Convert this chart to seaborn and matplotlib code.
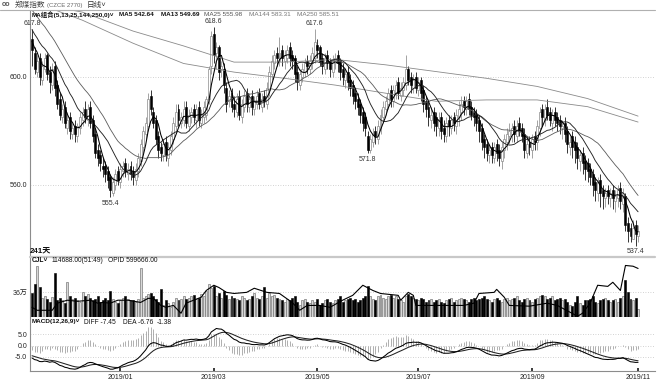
import numpy as np
import pandas as pd
import matplotlib
matplotlib.use("Agg")
import matplotlib.pyplot as plt
import seaborn as sns

# ── daily bars, 241 trading days (Nov 2018 - Nov 2019) ─────────────
# closes before the first visible bar, only used to seed MA / MACD
pre_close = [634, 636, 633, 635, 637, 634, 633, 635, 634, 636,
             634, 635, 633, 634, 632, 630, 628, 627, 625, 624,
             622, 621, 619, 618, 617, 616, 615, 614, 613, 614]

open_ = [614, 609, 602, 607, 599, 603, 608, 602, 597, 604,
         597, 592, 585, 589, 581, 585, 579, 582, 578, 581,
         584, 588, 584, 589, 584, 579, 573, 571, 567, 567,
         565, 563, 557, 560, 565, 561, 565, 568, 564, 567,
         565, 562, 565, 569, 574, 579, 582, 593, 587, 584,
         578, 574, 571, 576, 570, 573, 577, 582, 588, 583,
         584, 589, 582, 585, 588, 584, 589, 583, 585, 586,
         592, 604, 616, 609, 611, 603, 603, 596, 591, 594,
         590, 587, 593, 585, 589, 594, 589, 593, 588, 590,
         594, 589, 593, 590, 595, 601, 605, 609, 606, 610,
         606, 607, 611, 608, 607, 602, 597, 600, 602, 606,
         603, 605, 607, 612, 611, 607, 603, 608, 606, 602,
         605, 608, 606, 603, 599, 602, 599, 597, 594, 592,
         590, 587, 585, 578, 573, 576, 580, 577, 581, 585,
         588, 590, 595, 591, 594, 598, 593, 595, 597, 603,
         600, 596, 600, 595, 599, 595, 591, 589, 584, 587,
         585, 581, 585, 581, 578, 584, 581, 585, 582, 585,
         587, 591, 588, 592, 589, 587, 586, 584, 581, 577,
         575, 571, 574, 570, 575, 573, 569, 573, 576, 578,
         579, 582, 578, 583, 581, 579, 572, 576, 573, 578,
         576, 581, 588, 584, 589, 587, 583, 587, 585, 584,
         581, 583, 580, 574, 578, 576, 574, 569, 572, 569,
         568, 566, 564, 561, 557, 562, 558, 555, 558, 555,
         558, 554, 555, 559, 553, 556, 546, 544, 540, 545, 541]

high = [617.8, 611, 608, 609, 606, 609, 609, 604, 605, 606,
        599, 594, 590, 591, 587, 587, 583, 584, 583, 587,
        589, 591, 590, 591, 586, 581, 575, 573, 570, 569,
        567, 564, 563, 566, 567, 568, 569, 570, 568, 569,
        567, 568, 572, 577, 582, 585, 594, 595, 589, 586,
        580, 576, 577, 578, 576, 580, 585, 590, 590, 587,
        591, 591, 588, 589, 590, 590, 591, 588, 591, 593,
        604, 617, 618.6, 613, 612, 606, 605, 598, 595, 596,
        593, 594, 595, 592, 595, 596, 594, 595, 593, 595,
        596, 594, 595, 598, 604, 608, 610, 611, 614.8, 612,
        610, 612, 613, 610, 608, 604, 603, 605, 607, 608,
        608, 611, 617.6, 614, 612, 609, 609, 610, 607, 608,
        609, 610, 607, 605, 603, 604, 601, 599, 596, 594,
        592, 589, 587, 580, 579, 581, 582, 584, 588, 591,
        593, 596, 597, 597, 599, 600, 598, 600, 608, 604,
        602, 601, 602, 600, 600, 597, 593, 591, 589, 589,
        587, 587, 587, 584, 585, 586, 586, 587, 588, 591,
        593, 593, 593, 594, 591, 589, 588, 586, 583, 579,
        577, 575, 576, 576, 577, 575, 576, 579, 581, 583,
        583, 584, 584, 585, 583, 581, 578, 578, 579, 580,
        584, 589, 590, 590, 592, 589, 588, 589, 587, 586,
        584, 585, 582, 578, 580, 578, 576, 573, 574, 571,
        570, 568, 566, 563, 563, 564, 560, 559, 560, 559,
        560, 558, 560, 561, 559, 557, 548, 546, 547, 547, 545]

low = [604, 601, 600, 597, 597, 602, 599, 594, 595, 593,
       588, 584, 583, 581, 579, 577, 577, 576, 576, 579,
       582, 583, 582, 581, 576, 570, 567, 565, 563, 561,
       559, 555.4, 556, 558, 560, 559, 563, 563, 562, 562,
       560, 560, 563, 567, 572, 577, 580, 586, 581, 575,
       570, 569, 569, 569, 567, 571, 575, 580, 582, 581,
       582, 581, 580, 583, 583, 581, 582, 581, 583, 584,
       590, 601, 605, 603, 599, 600, 594, 587, 589, 587,
       585, 585, 584, 583, 587, 587, 587, 586, 586, 588,
       588, 587, 589, 588, 593, 599, 603, 604, 604, 604,
       603, 605, 604, 603, 598, 595, 595, 598, 600, 601,
       601, 603, 605, 607, 604, 601, 601, 603, 600, 600,
       603, 602, 599, 597, 596, 595, 593, 590, 588, 586,
       583, 580, 578, 571.8, 572, 574, 575, 575, 579, 583,
       586, 588, 589, 589, 592, 592, 591, 593, 595, 597,
       594, 594, 594, 593, 591, 587, 585, 582, 581, 580,
       578, 578, 577, 576, 576, 578, 579, 580, 579, 582,
       584, 586, 586, 586, 584, 582, 580, 576, 573, 570,
       569, 568, 568, 568, 569, 567, 566, 570, 573, 575,
       576, 576, 576, 578, 576, 570, 570, 571, 570, 573,
       573, 578, 582, 582, 584, 582, 580, 582, 580, 579,
       577, 576, 572, 571, 570, 568, 566, 565, 564, 562,
       561, 560, 556, 554, 554, 552, 551, 552, 553, 552,
       551, 550, 552, 551, 550, 543, 539, 539, 540, 537.4, 539]

close = [610, 603, 606, 600, 604, 607, 601, 598, 603, 596,
         590, 586, 588, 583, 584, 580, 581, 579, 582, 585,
         587, 585, 588, 583, 578, 572, 570, 568, 566, 564,
         562, 558, 561, 564, 562, 566, 567, 565, 566, 564,
         563, 566, 570, 575, 580, 583, 592, 588, 583, 577,
         573, 572, 575, 571, 574, 578, 583, 587, 584, 585,
         588, 583, 586, 587, 585, 588, 584, 586, 589, 592,
         603, 615, 608, 611, 602, 604, 597, 590, 593, 589,
         588, 592, 586, 590, 593, 590, 592, 589, 591, 593,
         590, 592, 591, 596, 602, 606, 608, 607, 609, 607,
         608, 610, 607, 606, 601, 598, 601, 603, 605, 604,
         606, 609, 613, 610, 606, 604, 607, 605, 603, 606,
         607, 605, 602, 600, 601, 598, 596, 593, 591, 589,
         586, 583, 581, 573, 577, 579, 578, 582, 586, 589,
         591, 594, 592, 595, 597, 594, 596, 598, 603, 599,
         597, 599, 596, 598, 594, 590, 588, 585, 586, 583,
         582, 584, 580, 579, 583, 582, 584, 583, 586, 588,
         590, 589, 591, 588, 586, 585, 583, 580, 576, 574,
         572, 573, 571, 574, 572, 570, 574, 577, 579, 580,
         581, 579, 582, 580, 578, 573, 575, 574, 577, 576,
         582, 587, 585, 588, 586, 584, 586, 584, 583, 582,
         582, 579, 575, 576, 574, 573, 570, 571, 568, 566,
         565, 563, 560, 558, 561, 557, 556, 557, 556, 557,
         555, 556, 558, 554, 557, 545, 543, 541, 544, 542, 543]

# volume, in 万手
volume = [34, 48, 73, 43, 28, 30, 26, 22, 29, 63,
          25, 27, 24, 20, 50, 30, 26, 28, 24, 22,
          36, 30, 33, 28, 24, 26, 30, 22, 25, 28,
          25, 38, 26, 22, 20, 24, 28, 30, 26, 24,
          24, 22, 26, 70, 28, 30, 33, 35, 30, 26,
          22, 40, 18, 25, 20, 15, 22, 28, 24, 26,
          30, 26, 28, 30, 32, 26, 28, 33, 30, 38,
          48, 42, 45, 30, 35, 28, 38, 32, 26, 30,
          28, 26, 24, 30, 28, 25, 26, 30, 34, 28,
          26, 30, 43, 28, 35, 30, 32, 28, 26, 24,
          22, 26, 24, 28, 30, 22, 18, 24, 26, 22,
          20, 24, 22, 26, 18, 20, 24, 26, 22, 20,
          24, 26, 30, 22, 24, 26, 28, 24, 26, 22,
          24, 28, 30, 45, 30, 26, 24, 30, 32, 28,
          26, 30, 32, 28, 30, 26, 24, 22, 30, 33,
          30, 28, 26, 24, 28, 26, 22, 24, 26, 22,
          24, 26, 22, 20, 24, 26, 28, 22, 24, 26,
          28, 26, 24, 22, 26, 28, 24, 26, 28, 30,
          26, 24, 22, 26, 28, 24, 22, 26, 28, 24,
          26, 28, 30, 24, 22, 26, 28, 24, 22, 26,
          28, 30, 32, 30, 26, 28, 30, 24, 26, 28,
          24, 26, 22, 18, 16, 22, 30, 20, 18, 24,
          24, 26, 30, 22, 20, 24, 26, 28, 24, 22,
          24, 26, 22, 28, 30, 53, 36, 26, 24, 27, 11]

# open interest (万手), read at these day numbers
oi_day = [0, 2, 8, 10, 14, 18, 23, 26, 28, 31, 34, 38, 43, 46, 48, 51, 53, 56,
          59, 61, 64, 67, 69, 72, 74, 77, 80, 85, 88, 93, 98, 103, 106, 109,
          114, 118, 123, 127, 131, 135, 138, 145, 146, 149, 151, 152, 158, 163,
          171, 175, 177, 183, 184, 187, 189, 197, 204, 208, 213, 216, 218, 221,
          224, 228, 230, 233, 235, 238, 240]
oi_val = [49.6, 48.8, 48.8, 50.7, 51.5, 51.2, 51.5, 50.7, 50.9, 50.7, 51.5,
          51.5, 50.9, 52.0, 52.0, 50.1, 49.6, 50.1, 48.0, 50.7, 51.5, 52.3,
          54.1, 55.5, 54.9, 53.6, 53.3, 53.6, 54.7, 53.6, 53.3, 50.9, 48.8,
          50.1, 50.1, 49.6, 51.5, 52.8, 55.5, 54.1, 53.3, 52.8, 51.5, 53.6,
          52.8, 50.1, 50.1, 50.1, 50.1, 50.7, 53.3, 53.6, 54.4, 52.3, 50.1,
          49.9, 50.7, 50.1, 48.3, 47.2, 48.0, 50.7, 55.5, 55.2, 56.3, 54.1,
          60.8, 60.6, 60.0]

ma_day = [0, 20, 40, 60, 80, 100, 120, 140, 160, 180, 200, 220, 240]
ma144_val = [628, 621, 612.5, 605, 601.8, 599.5, 597, 594, 591, 591.5, 591.5, 589, 583.3]
ma250_val = [627.5, 624, 617, 611.5, 605.5, 605.5, 606.5, 604.5, 602, 599.5, 596.5, 592, 585.5]

tick_day = [35, 72, 113, 153, 198, 240]
tick_text = ["2019/01", "2019/03", "2019/05", "2019/07", "2019/09", "2019/11"]

peak_day = [0, 72, 112]
trough_day = [31, 133, 239]

# ── indicators ──────────────────────────────────────────────
O = np.array(open_, float)
Hi = np.array(high, float)
Lo = np.array(low, float)
C = np.array(close, float)
V = np.array(volume, float)
days = np.arange(len(C))
up = C >= O

full = pd.Series(pre_close + close, dtype=float)
npre = len(pre_close)
ma5 = full.rolling(5).mean().to_numpy()[npre:]
ma13 = full.rolling(13).mean().to_numpy()[npre:]
ma25 = full.rolling(25).mean().to_numpy()[npre:]
ema12 = full.ewm(span=12, adjust=False).mean()
ema26 = full.ewm(span=26, adjust=False).mean()
diff_s = ema12 - ema26
dea_s = diff_s.ewm(span=9, adjust=False).mean()
diff = diff_s.to_numpy()[npre:]
dea = dea_s.to_numpy()[npre:]
hist = 2 * (diff - dea)

# ── figure ──────────────────────────────────────────────────
sns.set_theme(style="white")
plt.rcParams["font.family"] = ["Liberation Sans", "Noto Sans CJK SC", "DejaVu Sans"]
plt.rcParams["axes.unicode_minus"] = False

W, H = 658, 384
fig = plt.figure(figsize=(W / 100, H / 100), dpi=100)


def px_axes(x0, y0, x1, y1):
    return fig.add_axes([x0 / W, 1 - y1 / H, (x1 - x0) / W, (y1 - y0) / H])


def ftext(x, y, s, **kw):
    kw.setdefault("fontsize", 5)
    kw.setdefault("color", "#111111")
    fig.text(x / W, 1 - y / H, s, va="center", **kw)


def hline(x0, x1, y, **kw):
    fig.add_artist(plt.Line2D([x0 / W, x1 / W], [1 - y / H, 1 - y / H], **kw))


XL = (-0.8, 246.7)
GRID = dict(color="#c4c4c4", lw=0.6, ls=(0, (1, 2)), zorder=0)
TXT = 5
CHEV = "˅"

ax_p = px_axes(30, 10, 655, 256)
ax_v = px_axes(30, 258, 655, 317)
ax_m = px_axes(30, 318, 655, 371)

for ax in (ax_p, ax_v, ax_m):
    ax.set_xlim(*XL)
    for s in ("top", "right", "bottom"):
        ax.spines[s].set_visible(False)
    ax.spines["left"].set_color("#8c8c8c")
    ax.spines["left"].set_linewidth(0.8)
    ax.tick_params(axis="y", length=0, pad=2, labelsize=TXT, colors="#222222")
    ax.set_facecolor("white")
ax_p.set_xticks([])
ax_v.set_xticks([])

# price panel
ax_p.set_ylim(533.7, 624.8)
ax_p.set_yticks([560, 600])
ax_p.set_yticklabels(["560.0", "600.0"])
for v in (560, 600):
    ax_p.axhline(v, **GRID)

ax_p.vlines(days, Lo, Hi, colors=np.where(up, "#8a8a8a", "black"), lw=0.55, zorder=2)
body = np.maximum(np.abs(C - O), 0.35)
bot = np.minimum(O, C)
ax_p.bar(days[up], body[up], bottom=bot[up], width=0.78, facecolor="white",
         edgecolor="#8a8a8a", linewidth=0.5, zorder=3)
ax_p.bar(days[~up], body[~up], bottom=bot[~up], width=0.78, facecolor="black",
         edgecolor="black", linewidth=0.4, zorder=3)

sns.lineplot(x=ma_day, y=ma250_val, ax=ax_p, color="#8a8a8a", lw=0.6, zorder=4)
sns.lineplot(x=ma_day, y=ma144_val, ax=ax_p, color="#8a8a8a", lw=0.6, zorder=4)
sns.lineplot(x=days, y=ma25, ax=ax_p, color="#5a5a5a", lw=0.6, zorder=4)
sns.lineplot(x=days, y=ma13, ax=ax_p, color="#222222", lw=0.65, zorder=5)
sns.lineplot(x=days, y=ma5, ax=ax_p, color="black", lw=0.75, zorder=6)
ax_p.set_xlim(*XL)

for d in peak_day:
    ax_p.text(d, Hi[d] + 0.8, f"{Hi[d]:.1f}", ha="center", va="bottom",
              fontsize=TXT, color="#333333", clip_on=False)
for d in trough_day:
    ax_p.text(d, Lo[d] - 0.9, f"{Lo[d]:.1f}", ha="center", va="top",
              fontsize=TXT, color="#333333")

# volume panel
ax_v.set_ylim(0, 85)
ax_v.set_yticks([36])
ax_v.set_yticklabels(["36万"])
ax_v.axhline(36, **GRID)
ax_v.bar(days[up], V[up], width=0.78, facecolor="#d8d8d8", edgecolor="#7a7a7a",
         linewidth=0.5, zorder=2)
ax_v.bar(days[~up], V[~up], width=0.78, facecolor="black", edgecolor="black",
         linewidth=0.4, zorder=2)
ax_v.axhline(0, color="#9a9a9a", lw=0.7, zorder=1)
ax_oi = ax_v.twinx()
ax_oi.set_ylim(47, 62.8)
ax_oi.set_xlim(*XL)
ax_oi.axis("off")
sns.lineplot(x=oi_day, y=oi_val, ax=ax_oi, color="black", lw=0.8)

# MACD panel
ax_m.set_ylim(-11.2, 12.26)
ax_m.set_yticks([5, 0, -5])
ax_m.set_yticklabels(["5.0", "0.0", "-5.0"])
for v in (5, 0, -5):
    ax_m.axhline(v, **GRID)
ax_m.vlines(days, 0, hist, colors="#9a9a9a", lw=0.55, zorder=2)
sns.lineplot(x=days, y=dea, ax=ax_m, color="#222222", lw=0.75, zorder=3)
sns.lineplot(x=days, y=diff, ax=ax_m, color="black", lw=0.75, zorder=4)
ax_m.set_xlim(*XL)
ax_m.spines["bottom"].set_visible(True)
ax_m.spines["bottom"].set_color("#8c8c8c")
ax_m.spines["bottom"].set_linewidth(0.8)
ax_m.set_xticks(tick_day)
ax_m.set_xticklabels(tick_text)
ax_m.tick_params(axis="x", length=2, direction="in", pad=2, labelsize=TXT,
                 colors="#222222", bottom=True)
for ax in (ax_p, ax_v, ax_m):
    ax.set_xlabel("")
    ax.set_ylabel("")

# frame lines
hline(0, 655, 10, color="#b0b0b0", lw=0.8)
hline(30, 655, 256.5, color="#c8c8c8", lw=1.6)

# header texts
ftext(2, 5, "oo", fontsize=5, color="#555555", fontweight="bold")
ftext(15, 5, "郑煤指数", fontsize=5.5, color="#444444")
ftext(47, 5, "(CZCE 2770)", fontsize=4.3, color="#666666")
ftext(87, 5, "日线" + CHEV, fontsize=5.5, color="#333333")

ftext(32, 15, "MA组合(5,13,25,144,250,0)" + CHEV, fontsize=4.6, fontweight="bold")
ftext(119, 15, "MA5 542.64", fontsize=4.6, fontweight="bold")
ftext(161, 15, "MA13 549.69", fontsize=4.6, fontweight="bold")
ftext(204, 15, "MA25 555.98", fontsize=4.6, color="#555555")
ftext(249, 15, "MA144 583.31", fontsize=4.6, color="#777777")
ftext(297, 15, "MA250 585.51", fontsize=4.6, color="#777777")

ftext(30, 250.5, "241天", fontsize=5.8, fontweight="bold")

ftext(32, 261, "CJL" + CHEV, fontsize=4.8, fontweight="bold")
ftext(52, 261, "114688.00(51:49)", fontsize=4.8)
ftext(108, 261, "OPID 599666.00", fontsize=4.8)

ftext(32, 322, "MACD(12,26,9)" + CHEV, fontsize=4.6, fontweight="bold")
ftext(84, 322, "DIFF -7.45", fontsize=4.8)
ftext(123, 322, "DEA -6.76", fontsize=4.8)
ftext(157, 322, "-1.38", fontsize=4.8)

fig.savefig("out.png", dpi=100, facecolor="white")
